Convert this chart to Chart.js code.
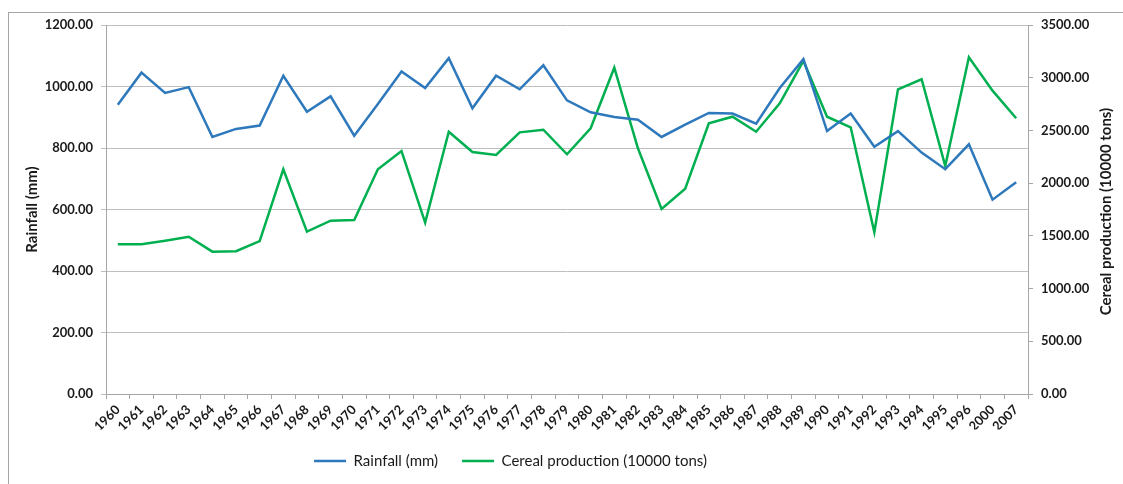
<!DOCTYPE html>
<html>
<head>
<meta charset="utf-8">
<title>Rainfall and cereal production</title>
<script src="https://cdn.jsdelivr.net/npm/chart.js@4/dist/chart.umd.min.js"></script>
<style>
    html, body { margin: 0; padding: 0; background: #fff; }
    #wrap { position: relative; width: 1123px; height: 484px; overflow: hidden; }
    #frame {
        position: absolute; left: 8px; top: 12px; right: 0; bottom: 0;
        border-left: 1px solid #a6a6a6; border-top: 1px solid #a6a6a6;
    }
    #chart { position: absolute; left: 0; top: 0; }
</style>
</head>
<body>
<div id="wrap">
    <div id="frame"></div>
    <canvas id="chart" width="1123" height="484"></canvas>
</div>
<script>
// Years on the x axis (note the jump after 1996)
const years = ['1960', '1961', '1962', '1963', '1964', '1965', '1966', '1967', '1968', '1969',
    '1970', '1971', '1972', '1973', '1974', '1975', '1976', '1977', '1978', '1979',
    '1980', '1981', '1982', '1983', '1984', '1985', '1986', '1987', '1988', '1989',
    '1990', '1991', '1992', '1993', '1994', '1995', '1996', '2000', '2007'];

// Rainfall (mm) - left axis
const rainfall = [941, 1045, 979, 998, 836, 862, 873, 1035, 918, 968,
    840, 943, 1049, 995, 1092, 929, 1035, 991, 1069, 955,
    916, 901, 892, 836, 876, 914, 912, 879, 995, 1089,
    855, 912, 804, 855, 785, 731, 812, 632, 689];

// Cereal production (10000 tons) - right axis
const cereal = [1420, 1420, 1454, 1492, 1350, 1354, 1451, 2131, 1540, 1644,
    1650, 2131, 2305, 1625, 2488, 2295, 2267, 2482, 2507, 2274,
    2520, 3095, 2331, 1755, 1947, 2568, 2630, 2488, 2757, 3159,
    2630, 2530, 1534, 2890, 2985, 2163, 3194, 2877, 2615];

// Axis ranges: [min, max, step]
const rainfallAxis = [0, 1200, 200];
const cerealAxis = [0, 3500, 500];

const FONT = 'Lato, "Open Sans", "DejaVu Sans", sans-serif';
const rightTitle = 'Cereal production (10000 tons)';

// Right axis title reads bottom-to-top, so draw it ourselves
const rightTitlePlugin = {
    id: 'rightTitle',
    afterDraw(chart) {
        const ctx = chart.ctx;
        const area = chart.chartArea;
        ctx.save();
        ctx.translate(1106, (area.top + area.bottom) / 2 + 2);
        ctx.rotate(-Math.PI / 2);
        ctx.font = 'bold 15px ' + FONT;
        ctx.fillStyle = '#1a1a1a';
        ctx.textAlign = 'center';
        ctx.textBaseline = 'middle';
        ctx.fillText(rightTitle, 0, 0);
        ctx.restore();
    }
};

// Excel places the legend a bit left of centre
const legendShift = {
    id: 'legendShift',
    afterLayout(chart) {
        if (chart.legend) {
            chart.legend.left -= 51;
            chart.legend.right -= 51;
        }
    }
};

const ctx = document.getElementById('chart').getContext('2d');
new Chart(ctx, {
    type: 'line',
    data: {
        labels: years,
        datasets: [{
            label: 'Rainfall (mm)',
            data: rainfall,
            borderColor: '#2e78bc',
            backgroundColor: '#2e78bc',
            borderWidth: 2.5,
            pointRadius: 0,
            tension: 0,
            yAxisID: 'y'
        }, {
            label: 'Cereal production (10000 tons)',
            data: cereal,
            borderColor: '#00b050',
            backgroundColor: '#00b050',
            borderWidth: 2.5,
            pointRadius: 0,
            tension: 0,
            yAxisID: 'y1'
        }]
    },
    options: {
        responsive: false,
        animation: false,
        layout: {
            padding: { top: 25, left: 0, right: 0, bottom: 5.5 }
        },
        plugins: {
            tooltip: { enabled: false },
            legend: {
                position: 'bottom',
                labels: {
                    usePointStyle: true,
                    pointStyle: 'line',
                    pointStyleWidth: 32,
                    padding: 24,
                    color: '#1a1a1a',
                    font: { family: FONT, size: 15 }
                }
            }
        },
        scales: {
            x: {
                offset: true,
                // tick labels may run into the legend's empty top padding
                afterFit: function(scale) { scale.height = 35.5; },
                grid: {
                    offset: true,
                    drawOnChartArea: false,
                    drawTicks: true,
                    tickLength: 5,
                    color: '#a6a6a6'
                },
                border: { color: '#a6a6a6' },
                ticks: {
                    autoSkip: false,
                    maxRotation: 45,
                    minRotation: 45,
                    padding: 3,
                    color: '#1a1a1a',
                    font: { family: FONT, size: 13, weight: 'bold' }
                }
            },
            y: {
                position: 'left',
                min: rainfallAxis[0],
                max: rainfallAxis[1],
                afterFit: function(scale) { scale.width = 106; },
                grid: {
                    color: '#bfbfbf',
                    tickLength: 5
                },
                border: { color: '#a6a6a6' },
                ticks: {
                    stepSize: rainfallAxis[2],
                    padding: 8,
                    color: '#1a1a1a',
                    font: { family: FONT, size: 13, weight: 'bold' },
                    callback: function(v) { return Number(v).toFixed(2); }
                },
                title: {
                    display: true,
                    text: 'Rainfall (mm)',
                    color: '#1a1a1a',
                    padding: { top: 23, bottom: 0 },
                    font: { family: FONT, size: 15, weight: 'bold' }
                }
            },
            y1: {
                position: 'right',
                min: cerealAxis[0],
                max: cerealAxis[1],
                afterFit: function(scale) { scale.width = 95; },
                grid: {
                    drawOnChartArea: false,
                    color: '#a6a6a6',
                    tickLength: 5
                },
                border: { color: '#a6a6a6' },
                ticks: {
                    stepSize: cerealAxis[2],
                    padding: 8,
                    color: '#1a1a1a',
                    font: { family: FONT, size: 13, weight: 'bold' },
                    callback: function(v) { return Number(v).toFixed(2); }
                }
            }
        }
    },
    plugins: [rightTitlePlugin, legendShift]
});
</script>
</body>
</html>
